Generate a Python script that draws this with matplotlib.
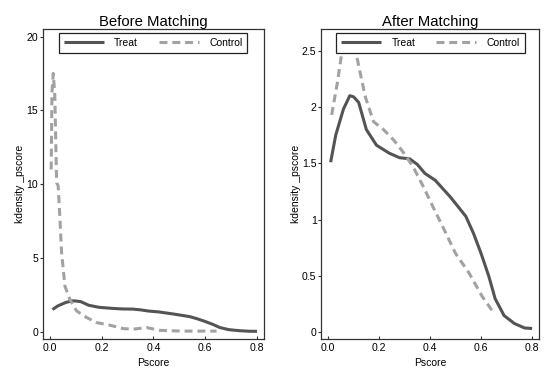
import matplotlib
matplotlib.use("Agg")
import matplotlib.pyplot as plt

plt.rcParams['font.family'] = ['Liberation Sans', 'DejaVu Sans']

# Treated group density (same in both panels)
treat_x = [0.01, 0.03, 0.06, 0.085, 0.10, 0.12, 0.15, 0.19, 0.24, 0.28, 0.32, 0.35, 0.38, 0.42, 0.44, 0.48, 0.54, 0.57, 0.60, 0.63, 0.655, 0.69, 0.73, 0.77, 0.80]
treat_y = [1.51, 1.75, 1.98, 2.10, 2.09, 2.04, 1.80, 1.66, 1.59, 1.55, 1.54, 1.49, 1.41, 1.35, 1.30, 1.20, 1.03, 0.88, 0.70, 0.50, 0.30, 0.15, 0.08, 0.04, 0.035]

# Control group before matching
ctrl_before_x = [0.005, 0.008, 0.013, 0.019, 0.026, 0.032, 0.039, 0.045, 0.058, 0.077, 0.103, 0.142, 0.18, 0.232, 0.283, 0.322, 0.373, 0.425, 0.51, 0.60, 0.644]
ctrl_before_y = [11.0, 16.2, 17.5, 16.0, 10.1, 9.9, 7.6, 5.4, 3.1, 2.2, 1.42, 0.97, 0.63, 0.45, 0.22, 0.18, 0.29, 0.10, 0.05, 0.05, 0.05]

# Control group after matching
ctrl_after_x = [0.014, 0.036, 0.055, 0.08, 0.113, 0.146, 0.178, 0.217, 0.256, 0.294, 0.333, 0.372, 0.41, 0.449, 0.50, 0.552, 0.604, 0.649]
ctrl_after_y = [1.93, 2.21, 2.50, 2.62, 2.44, 2.09, 1.87, 1.80, 1.71, 1.60, 1.47, 1.30, 1.12, 0.94, 0.70, 0.53, 0.32, 0.175]

titles = ["Before Matching", "After Matching"]
xticks = [0.0, 0.2, 0.4, 0.6, 0.8]
xticklabels = ["0.0", "0.2", "0.4", "0.6", "0.8"]
yticks_before = [0, 5, 10, 15, 20]
yticklabels_before = ["0", "5", "10", "15", "20"]
yticks_after = [0, 0.5, 1, 1.5, 2, 2.5]
yticklabels_after = ["0", "0.5", "1", "1.5", "2", "2.5"]

treat_color = "#545454"
ctrl_color = "#a2a2a2"

fig = plt.figure(figsize=(5.5, 3.74), dpi=100)
ax1 = fig.add_axes([0.078, 0.093, 0.402, 0.829])
ax2 = fig.add_axes([0.584, 0.093, 0.396, 0.829])

panels = [
    (ax1, ctrl_before_x, ctrl_before_y, yticks_before, yticklabels_before, (-0.5, 20.5), 0.072),
    (ax2, ctrl_after_x, ctrl_after_y, yticks_after, yticklabels_after, (-0.06, 2.69), 0.069),
]

for i, (ax, cx, cy, yt, ytl, ylim, legx) in enumerate(panels):
    ax.plot(treat_x, treat_y, color=treat_color, lw=2.2, label="Treat", solid_capstyle="butt")
    ax.plot(cx, cy, color=ctrl_color, lw=2.2, ls=(0, (2.6, 1.6)), label="Control")
    ax.set_xlim(-0.027, 0.827)
    ax.set_ylim(*ylim)
    ax.set_xticks(xticks)
    ax.set_xticklabels(xticklabels)
    ax.set_yticks(yt)
    ax.set_yticklabels(ytl)
    ax.tick_params(axis="x", direction="in", length=2.5, width=0.8, labelsize=7.6, pad=2.5,
                   colors="#333333", labelcolor="black")
    ax.tick_params(axis="y", direction="out", length=2.5, width=0.8, labelsize=7.6, pad=0.8,
                   colors="#333333", labelcolor="black")
    for s in ax.spines.values():
        s.set_color("#333333")
        s.set_linewidth(0.9)
    ax.set_title(titles[i], fontsize=10.7, pad=2.6)
    ax.set_xlabel("Pscore", fontsize=7.5, labelpad=4)
    ax.set_ylabel("kdensity _pscore", fontsize=7.5, labelpad=0.8)
    leg = ax.legend(loc="upper left", ncol=2, fontsize=7.5, frameon=True, fancybox=False,
                    handlelength=3.85, columnspacing=2.0, borderpad=0.45, handletextpad=1.0,
                    bbox_to_anchor=(legx, 0.987), borderaxespad=0.0)
    leg.get_frame().set_edgecolor("#222222")
    leg.get_frame().set_linewidth(0.9)
    leg.get_frame().set_alpha(1.0)

fig.savefig("out.png", dpi=100)
